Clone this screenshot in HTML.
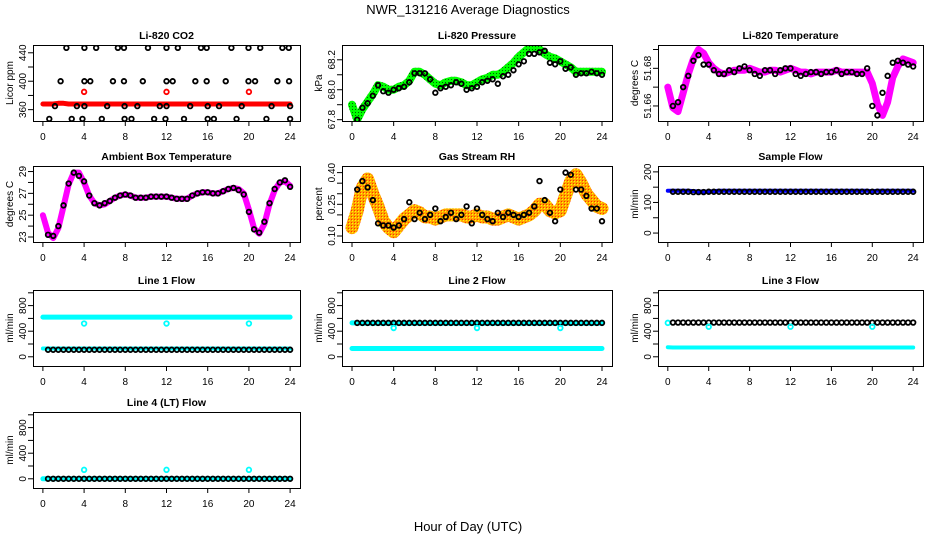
<!DOCTYPE html>
<html><head><meta charset="utf-8"><style>
html,body{margin:0;padding:0;background:#fff;}
svg{display:block;font-family:"Liberation Sans",Arial,sans-serif;}
</style></head><body>
<svg id="chart" width="936" height="540" viewBox="0 0 936 540" xmlns="http://www.w3.org/2000/svg">
<defs>
<pattern id="greenPat" width="3" height="3" patternUnits="userSpaceOnUse"><rect width="3" height="3" fill="#00ff00"/><rect x="1" y="1" width="1" height="1" fill="#006000"/></pattern>
<pattern id="rhPat" width="3" height="3" patternUnits="userSpaceOnUse"><rect width="3" height="3" fill="#ffa500"/><rect x="1" y="1" width="1" height="1" fill="#ffff00"/><rect x="0" y="0" width="1" height="1" fill="#ff3000"/></pattern>
</defs>
<text x="468" y="14" font-size="13" text-anchor="middle">NWR_131216  Average Diagnostics</text>
<text x="468" y="531" font-size="13" text-anchor="middle">Hour of Day (UTC)</text>
</svg>
<script>
const halfHours = [0,0.5,1,1.5,2,2.5,3,3.5,4,4.5,5,5.5,6,6.5,7,7.5,8,8.5,9,9.5,10,10.5,11,11.5,12,12.5,13,13.5,14,14.5,15,15.5,16,16.5,17,17.5,18,18.5,19,19.5,20,20.5,21,21.5,22,22.5,23,23.5,24];
const xTicks = [0,4,8,12,16,20,24];
const outlierHours = [4,12,20];

// CO2
const co2Red = [368,368,368,369,369,368,368,368,368,368,368,368,368,368,368,368,368,368,368,368,368,368,368,368,368,368,368,368,368,368,368,368,368,368,368,368,368,368,368,368,368,368,368,368,368,368,368,368,368];
const co2RedOutliers = [385,385,385];
const co2BlackX = [2.28,4.03,5.17,7.28,7.87,10.2,12.0,13.1,15.35,15.9,18.3,19.96,21.1,23.25,23.87,1.72,4.03,4.6,6.8,7.87,9.7,12,12.6,14.8,15.9,17.75,19.96,20.6,22.76,23.9,1.17,3.3,4.03,6.24,7.93,9.17,11.35,12,14.3,16,17.1,19.3,22.2,24,0.62,2.8,3.84,5.72,7.93,8.6,10.8,11.9,13.7,16,16.6,18.8,21.7,24];
const co2BlackY = [447,447,447,447,447,447,447,447,447,447,447,447,447,447,447,400,400,400,400,400,400,400,400,400,400,400,400,400,400,400,365,365,365,365,365,365,365,365,365,365,365,365,365,365,347,347,347,347,347,347,347,347,347,347,347,347,347,347];

// Pressure
const pressGreen = [67.90,67.80,67.87,67.92,67.97,68.03,68.02,68.00,68.00,68.02,68.03,68.06,68.12,68.12,68.10,68.07,68.04,68.03,68.05,68.06,68.06,68.05,68.03,68.03,68.05,68.07,68.08,68.10,68.10,68.12,68.15,68.18,68.22,68.25,68.28,68.28,68.27,68.24,68.22,68.21,68.19,68.17,68.15,68.12,68.12,68.12,68.12,68.12,68.12];
const pressBlack = [null,67.80,67.88,67.91,67.96,68.03,67.99,67.98,68.00,68.01,68.02,68.05,68.11,68.11,68.11,68.07,67.98,68.01,68.02,68.03,68.05,68.04,68.00,68.01,68.02,68.05,68.06,68.07,68.04,68.09,68.10,68.13,68.17,68.19,68.24,68.24,68.25,68.26,68.18,68.17,68.19,68.14,68.15,68.10,68.11,68.11,68.12,68.11,68.10];

// Li-820 temperature
const tempMag = [51.670,51.659,51.657,51.667,51.677,51.685,51.690,51.688,51.683,51.680,51.678,51.677,51.678,51.679,51.679,51.679,51.680,51.679,51.678,51.678,51.679,51.679,51.678,51.679,51.680,51.679,51.678,51.678,51.677,51.678,51.678,51.678,51.678,51.679,51.678,51.678,51.678,51.678,51.678,51.678,51.672,51.661,51.655,51.662,51.675,51.681,51.685,51.684,51.683];
const tempBlack = [null,51.660,51.662,51.670,51.676,51.684,51.687,51.682,51.682,51.679,51.677,51.677,51.679,51.678,51.680,51.681,51.679,51.677,51.676,51.679,51.679,51.677,51.679,51.680,51.680,51.677,51.676,51.677,51.678,51.678,51.677,51.678,51.678,51.679,51.677,51.678,51.678,51.677,51.677,51.680,51.660,51.655,51.667,51.676,51.683,51.684,51.683,51.682,51.681];

// Ambient box temperature
const ambMag = [25.0,23.4,22.9,23.8,25.8,27.8,28.9,28.9,28.0,26.8,26.1,25.9,26.0,26.3,26.6,26.8,26.9,26.8,26.6,26.6,26.6,26.7,26.7,26.7,26.7,26.6,26.5,26.5,26.5,26.8,27.0,27.1,27.1,27.0,27.0,27.2,27.4,27.5,27.4,27.0,25.5,23.8,23.3,24.2,26.0,27.3,28.0,28.1,27.7];
const ambBlack = [null,23.2,23.1,24.0,25.9,27.9,28.9,28.6,28.1,26.8,26.1,25.9,26.1,26.3,26.6,26.8,26.9,26.8,26.6,26.6,26.6,26.7,26.7,26.7,26.7,26.6,26.5,26.5,26.5,26.8,27.0,27.1,27.1,27.0,27.0,27.2,27.4,27.5,27.3,26.9,25.3,23.7,23.4,24.4,26.1,27.4,28.0,28.2,27.6];

// Gas stream RH
const rhOrange = [0.14,0.22,0.33,0.37,0.30,0.24,0.17,0.14,0.12,0.15,0.18,0.20,0.22,0.21,0.19,0.19,0.18,0.19,0.20,0.20,0.20,0.20,0.19,0.19,0.20,0.19,0.19,0.18,0.18,0.19,0.20,0.19,0.18,0.19,0.20,0.22,0.25,0.25,0.22,0.21,0.22,0.29,0.36,0.39,0.35,0.30,0.27,0.24,0.23];
const rhBlack = [null,0.32,0.36,0.33,0.27,0.16,0.15,0.15,0.14,0.15,0.18,0.26,0.18,0.21,0.18,0.20,0.23,0.17,0.19,0.21,0.18,0.20,0.24,0.16,0.23,0.20,0.18,0.17,0.21,0.19,0.21,0.20,0.19,0.20,0.21,0.24,0.36,0.27,0.21,0.17,0.32,0.40,0.39,0.32,0.32,0.29,0.23,0.23,0.17];

// Sample flow
const sampleBlue = [138,138,138,138,138,137,136,136,136,137,138,138,138,138,138,138,138,138,138,138,138,138,138,138,138,138,138,138,138,138,138,138,138,138,138,138,138,138,138,138,137,138,138,138,138,138,138,138,138];
const sampleBlack = [null,135,135,135,135,134,134,134,135,135,135,135,135,135,135,135,135,135,135,135,135,135,135,135,135,135,135,135,135,135,135,135,135,135,135,135,135,135,135,135,135,135,135,135,135,135,135,135,135];

// Line flows
const line1High = [620,620,620,620,620,620,620,620,620,620,620,620,620,620,620,620,620,620,620,620,620,620,620,620,620,620,620,620,620,620,620,620,620,620,620,620,620,620,620,620,620,620,620,620,620,620,620,620,620];
const line1Low = [130,130,130,130,130,130,130,130,130,130,130,130,130,130,130,130,130,130,130,130,130,130,130,130,130,130,130,130,130,130,130,130,130,130,130,130,130,130,130,130,130,130,130,130,130,130,130,130,130];
const line1Black = [null,110,110,110,110,110,110,110,110,110,110,110,110,110,110,110,110,110,110,110,110,110,110,110,110,110,110,110,110,110,110,110,110,110,110,110,110,110,110,110,110,110,110,110,110,110,110,110,110];
const line1Outliers = [520,520,520];
const line2High = [530,530,525,525,525,525,525,525,525,525,525,525,525,525,525,525,525,525,525,525,525,525,525,525,525,525,525,525,525,525,525,525,525,525,525,525,525,525,525,525,525,525,525,525,525,525,525,525,525];
const line2Low = [130,130,130,130,130,130,130,130,130,130,130,130,130,130,130,130,130,130,130,130,130,130,130,130,130,130,130,130,130,130,130,130,130,130,130,130,130,130,130,130,130,130,130,130,130,130,130,130,130];
const line2Black = [null,530,530,530,530,530,530,530,530,530,530,530,530,530,530,530,530,530,530,530,530,530,530,530,530,530,530,530,530,530,530,530,530,530,530,530,530,530,530,530,530,530,530,530,530,530,530,530,530];
const line2Outliers = [450,450,450];
const line3High = [530,null,null,null,null,null,null,null,null,null,null,null,null,null,null,null,null,null,null,null,null,null,null,null,null,null,null,null,null,null,null,null,null,null,null,null,null,null,null,null,null,null,null,null,null,null,null,null,null];
const line3Low = [150,145,145,145,145,145,145,145,145,145,145,145,145,145,145,145,145,145,145,145,145,145,145,145,145,145,145,145,145,145,145,145,145,145,145,145,145,145,145,145,145,145,145,145,145,145,145,145,145];
const line3Black = [null,535,535,535,535,535,535,535,535,535,535,535,535,535,535,535,535,535,535,535,535,535,535,535,535,535,535,535,535,535,535,535,535,535,535,535,535,535,535,535,535,535,535,535,535,535,535,535,535];
const line3Outliers = [470,470,470];
const line4Cyan = [0,0,0,0,0,0,0,0,0,0,0,0,0,0,0,0,0,0,0,0,0,0,0,0,0,0,0,0,0,0,0,0,0,0,0,0,0,0,0,0,0,0,0,0,0,0,0,0,0];
const line4Black = [null,0,0,0,0,0,0,0,0,0,0,0,0,0,0,0,0,0,0,0,0,0,0,0,0,0,0,0,0,0,0,0,0,0,0,0,0,0,0,0,0,0,0,0,0,0,0,0,0];
const line4Outliers = [140,140,140];

const NS = "http://www.w3.org/2000/svg";
const svg = document.getElementById('chart');
const colX = [[33,300],[342,612],[658,923]];
const rowY = [45,166,290,412];
const boxH = 76;

function mk(tag, attrs, parent) {
  const e = document.createElementNS(NS, tag);
  for (const k in attrs) e.setAttribute(k, attrs[k]);
  (parent || svg).appendChild(e);
  return e;
}

function makePanel(col, row, name, title, ylabel, ylim, yTicks, yLabels) {
  const x0 = colX[col][0], x1 = colX[col][1], y0 = rowY[row], y1 = y0 + boxH;
  const g = mk('g', {});
  
  
  const xs = v => x0 + (v + 0.96) / 25.92 * (x1 - x0);
  const ext = (ylim[1] - ylim[0]) * 0.04;
  const lo = ylim[0] - ext, hi = ylim[1] + ext;
  const ys = v => y1 - (v - lo) / (hi - lo) * (y1 - y0);
  const t = mk('text', {x: (x0 + x1) / 2, y: y0 - 6, 'font-size': 10.5, 'font-weight': 'bold', 'text-anchor': 'middle'}, g);
  t.textContent = title;
  
  
  const yt = mk('text', {x: 0, y: 0, 'font-size': 10, 'text-anchor': 'middle', transform: `translate(${x0 - 20},${(y0 + y1) / 2}) rotate(-90)`}, g);
  yt.textContent = ylabel;
  
  
  const xa = mk('g', {stroke: '#000', 'stroke-width': 1, fill: 'none'}, g);
  
  
  mk('line', {x1: xs(0), x2: xs(24), y1: y1 + 0.5, y2: y1 + 0.5}, xa);
  xTicks.forEach(v => {
    mk('line', {x1: xs(v), x2: xs(v), y1: y1, y2: y1 + 5}, xa);
    const l = mk('text', {x: xs(v), y: y1 + 19, 'font-size': 10, 'text-anchor': 'middle', fill: '#000', stroke: 'none'}, g);
    l.textContent = v;
    
    
  });
  const ya = mk('g', {stroke: '#000', 'stroke-width': 1, fill: 'none'}, g);
  
  
  mk('line', {x1: x0 + 0.5, x2: x0 + 0.5, y1: ys(yTicks[0]), y2: ys(yTicks[yTicks.length - 1])}, ya);
  yTicks.forEach(v => mk('line', {x1: x0 - 5, x2: x0, y1: ys(v), y2: ys(v)}, ya));
  yLabels.forEach(v => {
    const l = mk('text', {x: 0, y: 0, 'font-size': 10, 'text-anchor': 'middle', transform: `translate(${x0 - 7},${ys(parseFloat(v))}) rotate(-90)`}, g);
    l.textContent = v;
    
    
  });
  const plot = mk('g', {}, g);
  
  
  const clip = mk('clipPath', {id: 'clip-' + name}, g);
  mk('rect', {x: x0, y: y0, width: x1 - x0, height: y1 - y0}, clip);
  plot.setAttribute('clip-path', `url(#clip-${name})`);
  const box = mk('rect', {x: x0 + 0.5, y: y0 + 0.5, width: x1 - x0, height: y1 - y0, fill: 'none', stroke: '#000', 'stroke-width': 1}, g);
  
  
  return {xs, ys, plot, name};
}

function band(p, xsArr, vals, color, width, seriesName) {
  let d = '';
  vals.forEach((v, i) => { if (v === null) return; d += (d ? 'L' : 'M') + p.xs(xsArr[i]).toFixed(1) + ',' + p.ys(v).toFixed(1); });
  if (!d) return;
  const path = mk('path', {d: d, fill: 'none', stroke: color, 'stroke-width': width, 'stroke-linejoin': 'round', 'stroke-linecap': 'round'}, p.plot);
  
  
}
function dots(p, xsArr, vals, color, seriesName, r) {
  const g = mk('g', {fill: 'none', stroke: color, 'stroke-width': 1.8}, p.plot);
  
  
  vals.forEach((v, i) => {
    if (v === null) return;
    const c = mk('circle', {cx: p.xs(xsArr[i]), cy: p.ys(v), r: r || 2.3}, g);
    
    
  });
}

let p = makePanel(0, 0, 'co2', 'Li-820 CO2', 'Licor ppm', [348, 447], [360,380,400,420,440], ['360','400','440']);
band(p, halfHours, co2Red, '#ff0000', 5, 'co2-red-series');
dots(p, co2BlackX, co2BlackY, '#000', 'co2-black-series');
dots(p, outlierHours, co2RedOutliers, '#ff0000', 'co2-red-outliers');

p = makePanel(1, 0, 'pressure', 'Li-820 Pressure', 'kPa', [67.81, 68.28], [67.8,67.9,68.0,68.1,68.2], ['67.8','68.0','68.2']);
band(p, halfHours, pressGreen, 'url(#greenPat)', 8, 'pressure-green-series');
dots(p, halfHours, pressBlack, '#000', 'pressure-black-series');

p = makePanel(2, 0, 'li820-temp', 'Li-820 Temperature', 'degrees C', [51.6535, 51.6909], [51.66,51.67,51.68,51.69], ['51.66','51.68']);
band(p, halfHours, tempMag, '#ff00ff', 7, 'li820-temp-magenta-series');
dots(p, halfHours, tempBlack, '#000', 'li820-temp-black-series');

p = makePanel(0, 1, 'ambient', 'Ambient Box Temperature', 'degrees C', [22.8, 29.25], [23,24,25,26,27,28,29], ['23','25','27','29']);
band(p, halfHours, ambMag, '#ff00ff', 6, 'ambient-magenta-series');
dots(p, halfHours, ambBlack, '#000', 'ambient-black-series');

p = makePanel(1, 1, 'rh', 'Gas Stream RH', 'percent', [0.085, 0.418], [0.10,0.15,0.20,0.25,0.30,0.35,0.40], ['0.10','0.25','0.40']);
band(p, halfHours, rhOrange, 'url(#rhPat)', 13, 'rh-orange-series');
dots(p, halfHours, rhBlack, '#000', 'rh-black-series');

p = makePanel(2, 1, 'sample-flow', 'Sample Flow', 'ml/min', [-20, 210], [0,50,100,150,200], ['0','100','200']);
band(p, halfHours, sampleBlue, '#0000ff', 4, 'sample-flow-blue-series');
dots(p, halfHours, sampleBlack, '#000', 'sample-flow-black-series');

const flowTicks = [0,200,400,600,800,1000], flowLabels = ['0','400','800'];
p = makePanel(0, 2, 'line1', 'Line 1 Flow', 'ml/min', [-100, 1000], flowTicks, flowLabels);
band(p, halfHours, line1High, '#00ffff', 5, 'line1-cyan-high');
band(p, halfHours, line1Low, '#00ffff', 4, 'line1-cyan-low');
dots(p, halfHours, line1Black, '#000', 'line1-black-series');
dots(p, outlierHours, line1Outliers, '#00ffff', 'line1-cyan-outliers');

p = makePanel(1, 2, 'line2', 'Line 2 Flow', 'ml/min', [-100, 1000], flowTicks, flowLabels);
band(p, halfHours, line2High, '#00ffff', 5, 'line2-cyan-high');
band(p, halfHours, line2Low, '#00ffff', 5, 'line2-cyan-low');
dots(p, halfHours, line2Black, '#000', 'line2-black-series');
dots(p, outlierHours, line2Outliers, '#00ffff', 'line2-cyan-outliers');

p = makePanel(2, 2, 'line3', 'Line 3 Flow', 'ml/min', [-100, 1000], flowTicks, flowLabels);
dots(p, halfHours, line3High, '#00ffff', 'line3-cyan-high');
band(p, halfHours, line3Low, '#00ffff', 4, 'line3-cyan-low');
dots(p, halfHours, line3Black, '#000', 'line3-black-series');
dots(p, outlierHours, line3Outliers, '#00ffff', 'line3-cyan-outliers');

p = makePanel(0, 3, 'line4', 'Line 4 (LT) Flow', 'ml/min', [-100, 1000], flowTicks, flowLabels);
band(p, halfHours, line4Cyan, '#00ffff', 5, 'line4-cyan-series');
dots(p, halfHours, line4Black, '#000', 'line4-black-series');
dots(p, outlierHours, line4Outliers, '#00ffff', 'line4-cyan-outliers');
</script>
</body></html>
